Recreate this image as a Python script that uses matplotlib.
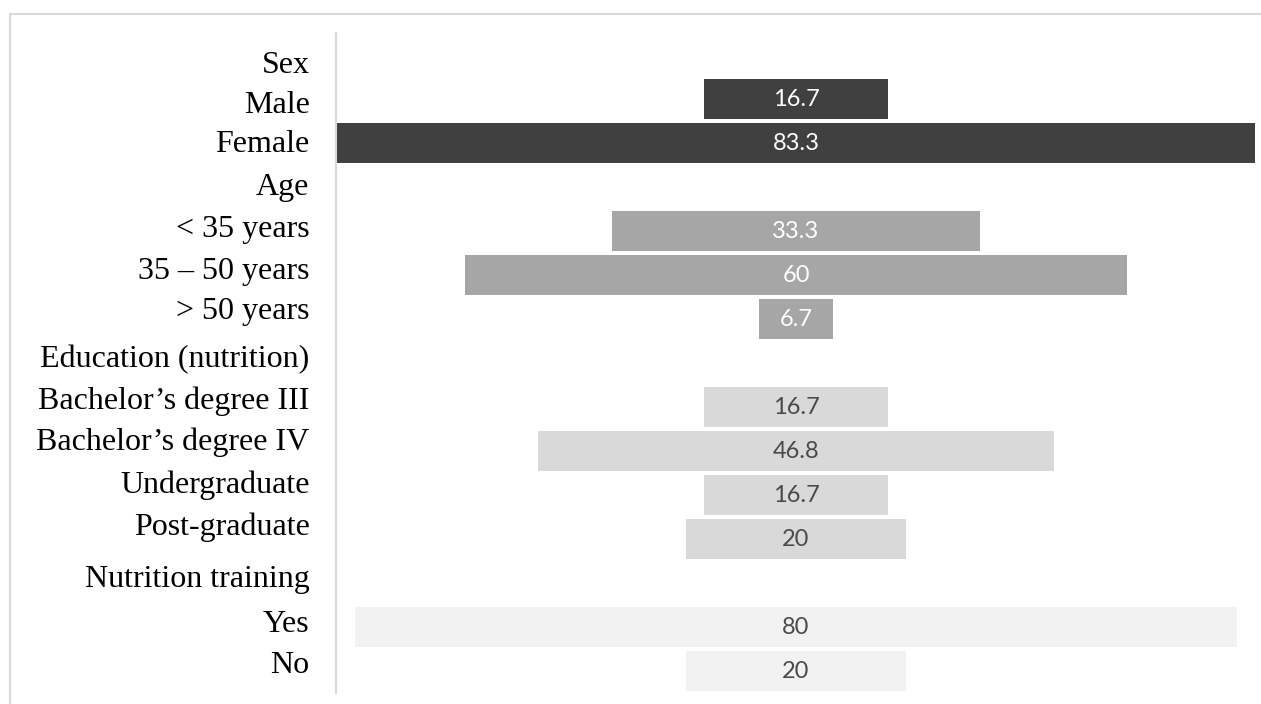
import matplotlib.pyplot as plt
from matplotlib.patches import Rectangle

# rows, top to bottom (group headers have no bar)
categories = ["Sex", "Male", "Female", "Age", "< 35 years", "35 – 50 years", "> 50 years",
              "Education (nutrition)", "Bachelor’s degree III", "Bachelor’s degree IV",
              "Undergraduate", "Post-graduate", "Nutrition training", "Yes", "No"]
values = [None, 16.7, 83.3, None, 33.3, 60, 6.7,
          None, 16.7, 46.8, 16.7, 20, None, 80, 20]
value_labels = ["", "16.7", "83.3", "", "33.3", "60", "6.7",
                "", "16.7", "46.8", "16.7", "20", "", "80", "20"]
groups = [0, 0, 0, 1, 1, 1, 1, 2, 2, 2, 2, 2, 3, 3, 3]

bar_colors = ["#404040", "#a6a6a6", "#d9d9d9", "#f2f2f2"]
text_colors = ["white", "white", "#4a4a4a", "#4a4a4a"]

# the category labels sit in a separate text block, a bit off the bar rows
label_shift = [0.16, 0.07, -0.05, -0.07, -0.11, -0.16, -0.25,
               -0.16, -0.2, -0.27, -0.3, -0.34, -0.16, -0.14, -0.2]

fig = plt.figure(figsize=(12.61, 7.04), dpi=100)
# light outer frame of the chart area
fig.patches.append(Rectangle((10 / 1261, -0.1), 1.2, (704 - 14) / 704 + 0.1,
                             transform=fig.transFigure, fill=False,
                             edgecolor="#d9d9d9", linewidth=1.5))

ax = fig.add_axes([336 / 1261, (704 - 693) / 704, 920 / 1261, 660 / 704])

for i, v in enumerate(values):
    if v is None:
        continue
    g = groups[i]
    ax.barh(i, v, left=-v / 2, height=0.9, color=bar_colors[g])
    ax.text(0, i, value_labels[i], ha="center", va="center",
            color=text_colors[g], fontsize=17, family="Lato")

ax.set_xlim(-41.7, 41.7)
ax.set_ylim(len(categories) - 0.5, -0.5)
ax.set_yticks([i + s for i, s in enumerate(label_shift)])
ax.set_yticklabels(categories, family="Liberation Serif", fontsize=23)
ax.tick_params(axis="y", length=0, pad=19)
ax.set_xticks([])

for s in ["top", "right", "bottom"]:
    ax.spines[s].set_visible(False)
ax.spines["left"].set_color("#d9d9d9")
ax.spines["left"].set_linewidth(1.5)

fig.savefig("out.png", dpi=100)
